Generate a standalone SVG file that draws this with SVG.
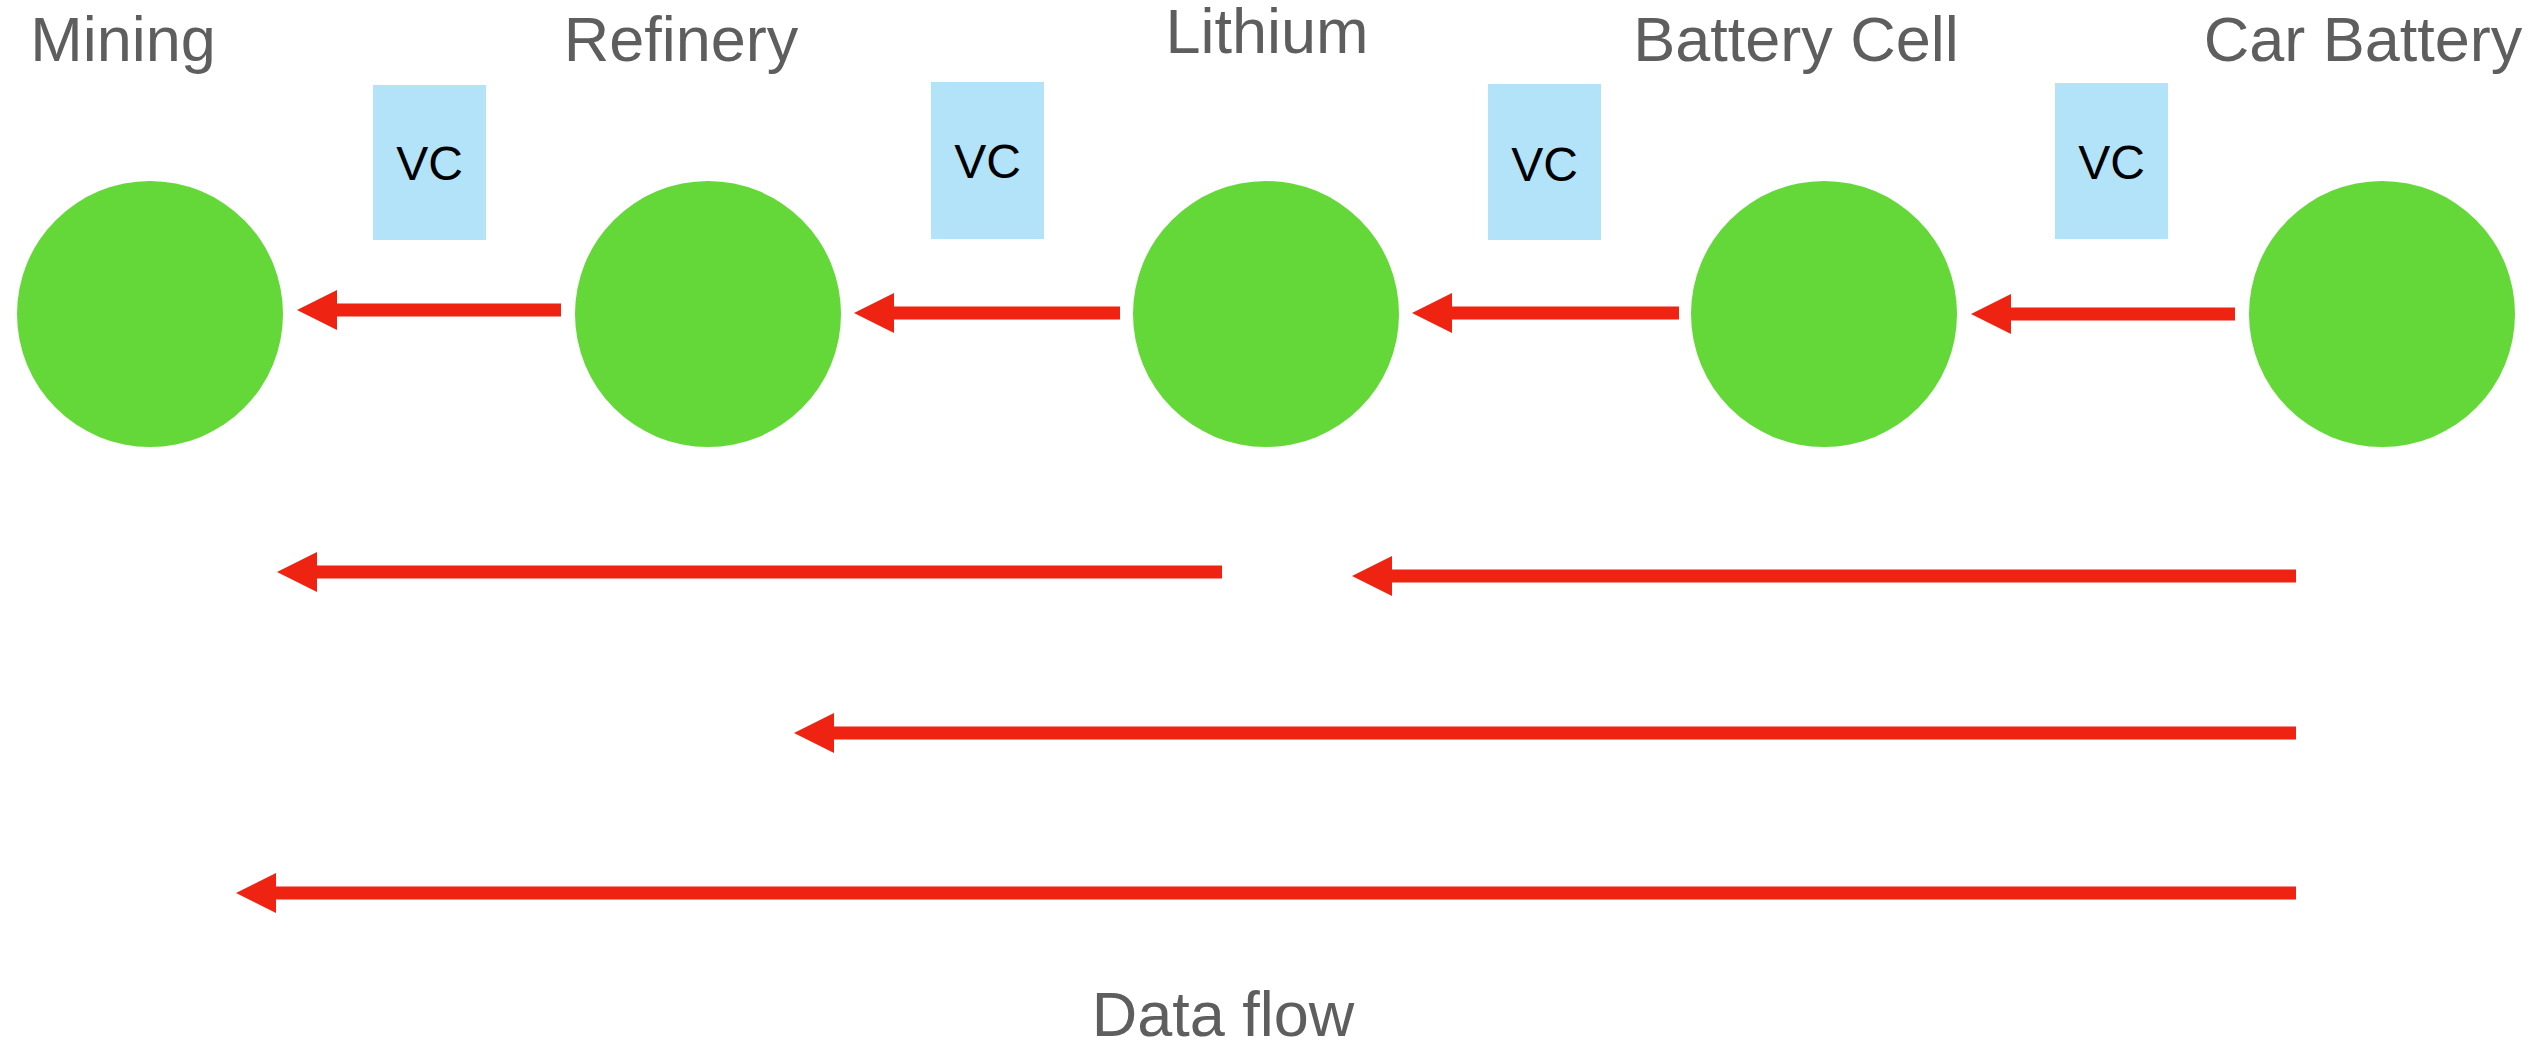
<svg xmlns="http://www.w3.org/2000/svg" width="2531" height="1046" viewBox="0 0 2531 1046">
<style>
.title{font-family:"Liberation Sans",Arial,sans-serif;font-size:63px;fill:#5e5e5e;text-anchor:middle}
.vc{font-family:"Liberation Sans",Arial,sans-serif;font-size:48px;fill:#000;text-anchor:middle}
.node{fill:#63d838}
.box{fill:#b3e3f8}
.arr{stroke:#ee2311;stroke-width:13;fill:none;marker-end:url(#head)}
</style>
<defs>
<marker id="head" markerUnits="userSpaceOnUse" markerWidth="40" markerHeight="40" viewBox="0 0 40 40" refX="0" refY="20" orient="auto">
<path d="M0,0 L40,20 L0,40 z" fill="#ee2311"/>
</marker>
</defs>
<rect width="2531" height="1046" fill="#fff"/>
<g id="mining"><circle class="node" cx="150" cy="314" r="133"/><text class="title" x="123" y="61">Mining</text></g>
<g id="refinery"><circle class="node" cx="708" cy="314" r="133"/><text class="title" x="681" y="61">Refinery</text></g>
<g id="lithium"><circle class="node" cx="1266" cy="314" r="133"/><text class="title" x="1267" y="53">Lithium</text></g>
<g id="battery-cell"><circle class="node" cx="1824" cy="314" r="133"/><text class="title" x="1796" y="61">Battery Cell</text></g>
<g id="car-battery"><circle class="node" cx="2382" cy="314" r="133"/><text class="title" x="2363" y="61">Car Battery</text></g>
<g id="vc1"><rect class="box" x="373" y="85" width="113" height="155"/><text class="vc" x="429.5" y="180">VC</text></g>
<g id="vc2"><rect class="box" x="931" y="82" width="113" height="157"/><text class="vc" x="987.5" y="178">VC</text></g>
<g id="vc3"><rect class="box" x="1488" y="84" width="113" height="156"/><text class="vc" x="1544.5" y="181">VC</text></g>
<g id="vc4"><rect class="box" x="2055" y="83" width="113" height="156"/><text class="vc" x="2111.5" y="179">VC</text></g>
<g id="connectors">
<line class="arr" x1="561" y1="310" x2="337" y2="310"/>
<line class="arr" x1="1120" y1="313" x2="894" y2="313"/>
<line class="arr" x1="1679" y1="313" x2="1452" y2="313"/>
<line class="arr" x1="2235" y1="314" x2="2011" y2="314"/>
<line class="arr" x1="1222" y1="572" x2="317" y2="572"/>
<line class="arr" x1="2296" y1="576" x2="1392" y2="576"/>
<line class="arr" x1="2296" y1="733" x2="834" y2="733"/>
<line class="arr" x1="2296" y1="893" x2="276" y2="893"/>
</g>
<text class="title" x="1223" y="1036">Data flow</text>
</svg>
